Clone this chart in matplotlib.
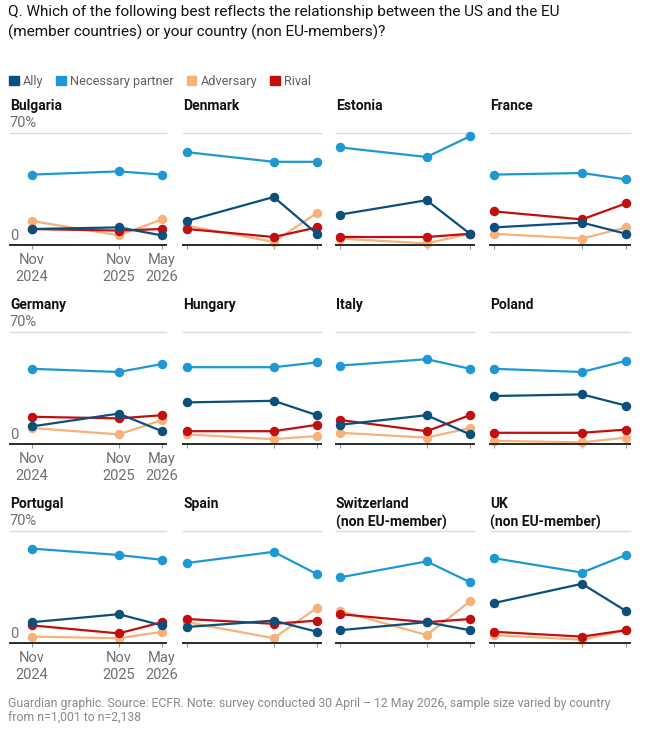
import matplotlib
matplotlib.use("Agg")
import matplotlib.pyplot as plt
from matplotlib.patches import Patch

plt.rcParams['font.family'] = ['Roboto', 'DejaVu Sans']

countries = ["Bulgaria", "Denmark", "Estonia", "France",
             "Germany", "Hungary", "Italy", "Poland",
             "Portugal", "Spain", "Switzerland\n(non EU-member)", "UK\n(non EU-member)"]
months = [0, 12, 18]  # months since Nov 2024
date_labels = ["Nov\n2024", "Nov\n2025", "May\n2026"]

# share (%) at Nov 2024, Nov 2025, May 2026
ally = [[10, 11, 6], [15, 30, 7], [19, 28, 7], [11, 14, 7],
        [11, 19, 8], [26, 27, 18], [12, 18, 6], [30, 31, 24],
        [13, 18, 11], [10, 14, 7], [8, 13, 8], [25, 37, 20]]
partner = [[44, 46, 44], [58, 52, 52], [61, 55, 68], [44, 45, 41],
           [47, 45, 50], [48, 48, 51], [49, 53, 47], [47, 45, 52],
           [59, 55, 52], [50, 57, 43], [41, 51, 38], [53, 44, 55]]
adversary = [[15, 6, 16], [12, 2, 20], [4, 1, 7], [7, 4, 11],
             [10, 6, 15], [6, 3, 5], [7, 4, 10], [2, 1, 4],
             [4, 3, 7], [13, 3, 22], [20, 5, 26], [5, 2, 8]]
rival = [[10, 9, 10], [10, 5, 11], [5, 5, 7], [21, 16, 26],
         [17, 16, 18], [8, 8, 12], [15, 8, 18], [7, 7, 9],
         [11, 6, 13], [15, 12, 14], [18, 13, 15], [7, 4, 8]]

ALLY = '#0b4f7c'
PARTNER = '#1d98d4'
ADV = '#f6b27a'
RIVAL = '#c10f0f'
series = [(adversary, ADV, 2), (rival, RIVAL, 3), (partner, PARTNER, 4), (ally, ALLY, 5)]

W, H = 666, 729
fig = plt.figure(figsize=(W / 100, H / 100), dpi=100)

fig.text(8 / W, 1 - 5 / H,
         "Q. Which of the following best reflects the relationship between the US and the EU\n"
         "(member countries) or your country (non EU-members)?",
         va='top', ha='left', fontsize=11, color='#121212', linespacing=1.45)

handles = [Patch(color=ALLY), Patch(color=PARTNER), Patch(color=ADV), Patch(color=RIVAL)]
fig.legend(handles, ["Ally", "Necessary partner", "Adversary", "Rival"],
           loc='upper left', bbox_to_anchor=(0 / W, 1 - 66 / H), ncol=4, frameon=False,
           handlelength=0.75, handleheight=0.75, handletextpad=0.35, columnspacing=1.0,
           fontsize=9.2, labelcolor='#606060', borderpad=0.2)

row_base = [245, 444, 643]
col_left = [10, 183, 336, 490]
col_width = [156, 138, 138, 140]
plot_h = 112

for i, name in enumerate(countries):
    r, c = divmod(i, 4)
    ax = fig.add_axes([col_left[c] / W, 1 - row_base[r] / H, col_width[c] / W, plot_h / H])
    ax.set_xlim(-3.05 if c == 0 else -0.55, 18.55)
    ax.set_ylim(0, 70)
    ax.axhline(70, color='#dcdcdc', lw=1, zorder=0, clip_on=False)
    for data, col, z in series:
        ax.plot(months, data[i], color=col, lw=1.6, marker='o', markersize=5.8,
                zorder=z, clip_on=False)
    for s in ['top', 'left', 'right']:
        ax.spines[s].set_visible(False)
    ax.spines['bottom'].set_color('#2a2a2a')
    ax.spines['bottom'].set_linewidth(1.4)
    ax.set_yticks([])
    ax.set_xticks(months)
    ax.tick_params(axis='x', length=3, width=0.8, color='#999999', pad=3,
                   labelsize=10.5, labelcolor='#707070')
    if c == 0:
        ax.set_xticklabels(date_labels, linespacing=1.2)
        ax.text(-3.05, 72, "70%", ha='left', va='bottom', fontsize=10.5, color='#707070')
        ax.text(-3.05, 1.5, "0", ha='left', va='bottom', fontsize=10.5, color='#707070')
    else:
        ax.set_xticklabels([])
    ax.text(0, 1 + 34 / plot_h, name, transform=ax.transAxes, ha='left', va='top',
            fontsize=10, fontweight='bold', color='#121212', linespacing=1.3)

fig.text(8 / W, 1 - 697 / H,
         "Guardian graphic. Source: ECFR. Note: survey conducted 30 April \u2013 12 May 2026, "
         "sample size varied by country\nfrom n=1,001 to n=2,138",
         va='top', ha='left', fontsize=8.8, color='#8a8a8a', linespacing=1.2)

fig.savefig("out.png", dpi=100)
plt.close(fig)
